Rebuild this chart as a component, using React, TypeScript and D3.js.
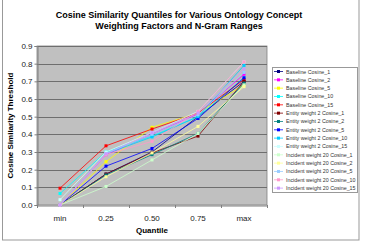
import * as d3 from "d3";
import { useEffect, useRef } from "react";

const quantiles = ["min", "0.25", "0.50", "0.75", "max"];
const yTicks = [0, 0.1, 0.2, 0.3, 0.4, 0.5, 0.6, 0.7, 0.8, 0.9];

const seriesNames = [
  "Baseline Cosine_1",
  "Baseline Cosine_2",
  "Baseline Cosine_5",
  "Baseline Cosine_10",
  "Baseline Cosine_15",
  "Entity weight 2 Cosine_1",
  "Entity weight 2 Cosine_2",
  "Entity weight 2 Cosine_5",
  "Entity weight 2 Cosine_10",
  "Entity weight 2 Cosine_15",
  "Incident weight 20 Cosine_1",
  "Incident weight 20 Cosine_2",
  "Incident weight 20 Cosine_5",
  "Incident weight 20 Cosine_10",
  "Incident weight 20 Cosine_15",
];

const seriesColors = [
  "#000080", "#ff00ff", "#ffff00", "#00ffff", "#ff0000",
  "#800000", "#008080", "#0000ff", "#00ccff", "#ccffff",
  "#ccffcc", "#ffff99", "#99ccff", "#ff99cc", "#cc99ff",
];

const seriesValues = [
  [0, 0.175, 0.3, 0.5, 0.7],
  [0, 0.285, 0.4, 0.515, 0.74],
  [0, 0.245, 0.44, 0.52, 0.68],
  [0.065, 0.3, 0.39, 0.5, 0.72],
  [0.095, 0.335, 0.43, 0.52, 0.71],
  [0, 0.175, 0.295, 0.39, 0.7],
  [0, 0.17, 0.285, 0.405, 0.69],
  [0, 0.22, 0.32, 0.49, 0.72],
  [0, 0.29, 0.385, 0.5, 0.79],
  [0.03, 0.3, 0.41, 0.53, 0.81],
  [0, 0.105, 0.255, 0.405, 0.68],
  [0, 0.16, 0.295, 0.445, 0.67],
  [0, 0.29, 0.4, 0.51, 0.75],
  [0, 0.285, 0.36, 0.53, 0.81],
  [0, 0.29, 0.41, 0.52, 0.77],
];

export default function App() {
  const ref = useRef<SVGSVGElement>(null);

  useEffect(() => {
    const svg = d3.select(ref.current!);
    svg.selectAll("*").remove();
    const font = "Arial, 'Liberation Sans', sans-serif";
    const plot = { left: 37, right: 267, top: 46, bottom: 205 };

    const x = d3
      .scaleBand()
      .domain(quantiles)
      .range([plot.left, plot.right]);
    const cx = (q: string) => x(q)! + x.bandwidth() / 2;

    const y = d3
      .scaleLinear()
      .domain([0, 0.9])
      .range([plot.bottom, plot.top]);

    // outer chart border
    svg
      .append("rect")
      .attr("x", 2.5)
      .attr("y", -1)
      .attr("width", 356.5)
      .attr("height", 241)
      .attr("fill", "#fff")
      .attr("stroke", "#999");

    // title
    const title = svg
      .append("text")
      .attr("text-anchor", "middle")
      .attr("font-family", font)
      .attr("font-weight", "bold")
      .attr("font-size", 9)
      .attr("fill", "#000");
    title.append("tspan").attr("x", 179).attr("y", 17.5).text("Cosine Similarity Quantiles for Various Ontology Concept");
    title.append("tspan").attr("x", 179).attr("y", 28.5).text("Weighting Factors and N-Gram Ranges");

    // plot area
    svg
      .append("rect")
      .attr("x", plot.left)
      .attr("y", plot.top)
      .attr("width", plot.right - plot.left)
      .attr("height", plot.bottom - plot.top)
      .attr("fill", "#c0c0c0")
      .attr("stroke", "#808080")
      .attr("stroke-width", 0.8);

    svg
      .append("g")
      .selectAll("line")
      .data(yTicks.slice(1))
      .join("line")
      .attr("x1", plot.left)
      .attr("x2", plot.right)
      .attr("y1", (d) => Math.round(y(d)) + 0.5)
      .attr("y2", (d) => Math.round(y(d)) + 0.5)
      .attr("stroke", "#6e6e6e")
      .attr("stroke-width", 1);

    // y axis
    const yAxis = svg
      .append("g")
      .attr("transform", `translate(${plot.left + 0.5},0)`)
      .call(d3.axisLeft(y).tickValues(yTicks).tickSize(3).tickFormat(d3.format(".1f")));
    yAxis.select(".domain").attr("stroke", "#808080");
    yAxis.selectAll(".tick line").attr("stroke", "#808080");
    yAxis
      .selectAll(".tick text")
      .attr("font-family", font)
      .attr("font-size", 8)
      .attr("fill", "#222")
      .attr("x", -5);

    // x axis
    const xAxis = svg
      .append("g")
      .attr("transform", `translate(0,${plot.bottom + 0.5})`)
      .call(d3.axisBottom(x).tickSize(0));
    xAxis.select(".domain").attr("stroke", "#808080");
    xAxis
      .selectAll(".tick text")
      .attr("font-family", font)
      .attr("font-size", 8)
      .attr("fill", "#222")
      .attr("dy", 0)
      .attr("y", 15);
    svg
      .append("g")
      .selectAll("line")
      .data(quantiles.map((q) => x(q)!).concat([plot.right]))
      .join("line")
      .attr("x1", (d) => Math.round(d) + 0.5)
      .attr("x2", (d) => Math.round(d) + 0.5)
      .attr("y1", plot.bottom)
      .attr("y2", plot.bottom + 3)
      .attr("stroke", "#808080");

    // axis titles
    svg
      .append("text")
      .attr("x", cx("0.50"))
      .attr("y", 233)
      .attr("text-anchor", "middle")
      .attr("font-family", font)
      .attr("font-weight", "bold")
      .attr("font-size", 8)
      .text("Quantile");
    svg
      .append("text")
      .attr("transform", `translate(13,${(plot.top + plot.bottom) / 2}) rotate(-90)`)
      .attr("text-anchor", "middle")
      .attr("font-family", font)
      .attr("font-weight", "bold")
      .attr("font-size", 8)
      .text("Cosine Similarity Threshold");

    // series
    const line = d3
      .line<number>()
      .x((_, i) => cx(quantiles[i]))
      .y((d) => y(d));

    const series = svg
      .append("g")
      .selectAll("g")
      .data(seriesValues)
      .join("g");
    series
      .append("path")
      .attr("d", (d) => line(d))
      .attr("fill", "none")
      .attr("stroke", (_, i) => seriesColors[i])
      .attr("stroke-width", 0.8);
    series.each(function (vals, i) {
      d3.select(this)
        .selectAll("rect")
        .data(vals)
        .join("rect")
        .attr("x", (_, j) => cx(quantiles[j]) - 1.5)
        .attr("y", (d) => y(d) - 1.5)
        .attr("width", 3)
        .attr("height", 3)
        .attr("fill", seriesColors[i]);
    });

    // legend
    const lg = { x: 272, y: 67, w: 85, h: 125, step: 8.33 };
    svg
      .append("rect")
      .attr("x", lg.x + 0.5)
      .attr("y", lg.y + 0.5)
      .attr("width", lg.w)
      .attr("height", lg.h)
      .attr("fill", "#fff")
      .attr("stroke", "#999");
    const items = svg
      .append("g")
      .selectAll("g")
      .data(seriesNames)
      .join("g")
      .attr("transform", (_, i) => `translate(${lg.x + 2},${lg.y + 4.5 + i * lg.step})`);
    items
      .append("line")
      .attr("x1", 0)
      .attr("x2", 9)
      .attr("stroke", (_, i) => seriesColors[i])
      .attr("stroke-width", 0.8);
    items
      .append("rect")
      .attr("x", 3)
      .attr("y", -1.5)
      .attr("width", 3)
      .attr("height", 3)
      .attr("fill", (_, i) => seriesColors[i]);
    items
      .append("text")
      .attr("x", 12)
      .attr("y", 2)
      .attr("font-family", font)
      .attr("font-size", 5.3)
      .attr("fill", "#333")
      .text((d) => d);
  }, []);

  return (
    <svg
      ref={ref}
      width={379}
      height={243}
      style={{ position: "absolute", left: 0, top: 0, background: "#fff" }}
    />
  );
}
